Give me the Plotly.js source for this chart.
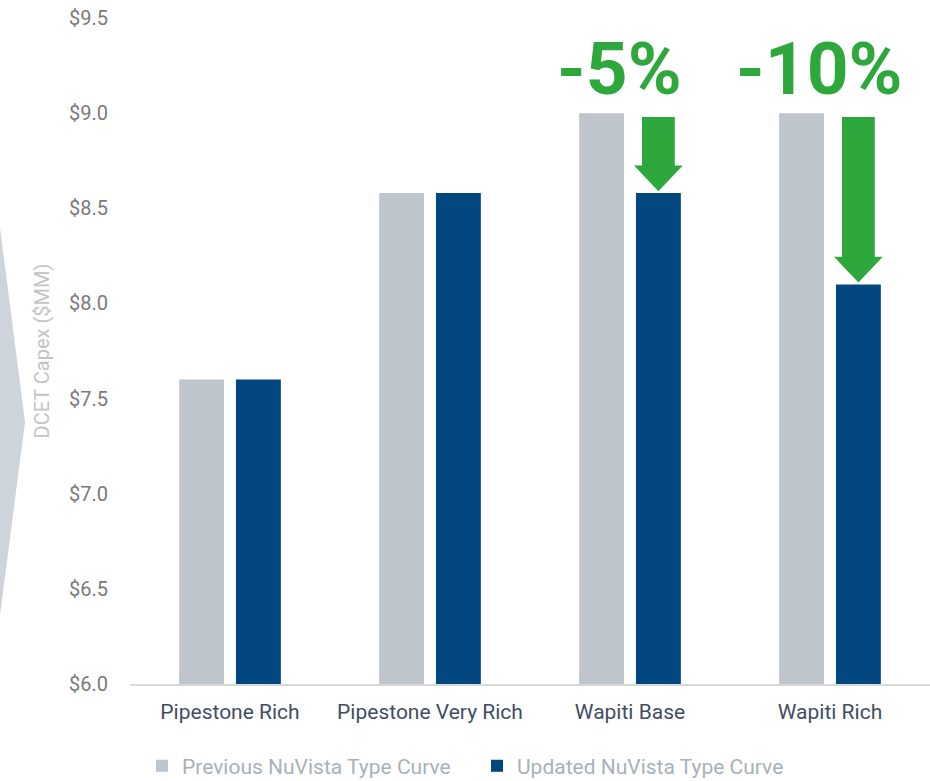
<!DOCTYPE html>
<html>
<head>
<meta charset="utf-8">
<script src="https://cdn.plot.ly/plotly-3.0.1.min.js"></script>
<style>html,body{margin:0;padding:0;background:#fff;}#chart{width:930px;height:781px;}</style>
</head>
<body>
<div id="chart"></div>
<script>
// ---- data ----
var categories = ["Pipestone Rich", "Pipestone Very Rich", "Wapiti Base", "Wapiti Rich"];
var previousCapex = [7.6, 8.58, 9.0, 9.0];
var updatedCapex = [7.6, 8.58, 8.58, 8.1];
var changeLabels = ["", "", "-5%", "-10%"];
var seriesNames = ["Previous NuVista Type Curve", "Updated NuVista Type Curve"];
var yTickVals = [6.0, 6.5, 7.0, 7.5, 8.0, 8.5, 9.0, 9.5];
var yTickText = ["$6.0", "$6.5", "$7.0", "$7.5", "$8.0", "$8.5", "$9.0", "$9.5"];

// ---- styling ----
var greyBar = "#bec5cd";
var blueBar = "#02477f";
var green = "#2ea83c";
var bargap = 0.432;
var bargroupgap = 0.21;

var traces = [
  {type: "bar", name: seriesNames[0], x: categories, y: previousCapex,
   marker: {color: greyBar}, hoverinfo: "x+y"},
  {type: "bar", name: seriesNames[1], x: categories, y: updatedCapex,
   marker: {color: blueBar}, hoverinfo: "x+y"}
];

// arrows and percentage labels, derived from the data
var shapes = [];
var annotations = [];
var slot = (1 - bargap) / 2;
var blueOffset = slot / 2;
categories.forEach(function (c, i) {
  if (!changeLabels[i]) return;
  var xc = i + blueOffset;
  var top = previousCapex[i] - 0.02;
  var tip = updatedCapex[i] + 0.01;
  var headStart = tip + 0.135;
  var sw = 0.082, hw = 0.122;
  var p = "M " + (xc - sw) + "," + top +
          " L " + (xc + sw) + "," + top +
          " L " + (xc + sw) + "," + headStart +
          " L " + (xc + hw) + "," + headStart +
          " L " + xc + "," + tip +
          " L " + (xc - hw) + "," + headStart +
          " L " + (xc - sw) + "," + headStart + " Z";
  shapes.push({type: "path", xref: "x", yref: "y", path: p,
               fillcolor: green, line: {width: 0}, layer: "above"});
  annotations.push({xref: "x", yref: "y", x: i - 0.055, y: 9.23,
                    text: "<b>" + changeLabels[i] + "</b>", showarrow: false,
                    font: {family: "Roboto", size: 73, color: green},
                    xanchor: "center", yanchor: "middle"});
});

// decorative chevron at left edge
shapes.push({type: "path", xref: "paper", yref: "paper",
             path: "M -0.1625,0.6847 L -0.13125,0.3934 L -0.1625,0.1036 Z",
             fillcolor: "#cdd4db", line: {width: 0}, layer: "below"});

var layout = {
  width: 930, height: 781,
  margin: {l: 130, r: 0, t: 18, b: 97},
  paper_bgcolor: "#ffffff", plot_bgcolor: "#ffffff",
  barmode: "group", bargap: bargap, bargroupgap: bargroupgap,
  font: {family: "Roboto", color: "#777"},
  xaxis: {
    type: "category", showgrid: false, zeroline: false,
    showline: true, linecolor: "#d9d9d9", linewidth: 2,
    ticks: "", ticklabelstandoff: 8, automargin: false,
    tickfont: {family: "Roboto", size: 21, color: "#3f4e62"}
  },
  yaxis: {
    range: [6.0, 9.5], showgrid: false, zeroline: false, showline: false,
    tickvals: yTickVals, ticktext: yTickText, ticks: "", automargin: false,
    ticklabelstandoff: 21,
    tickfont: {family: "Roboto", size: 20, color: "#7a7a7a"},
    title: {text: "DCET Capex ($MM)", standoff: 14,
            font: {family: "Roboto", size: 20, color: "#c4c4c4"}}
  },
  showlegend: true,
  legend: {orientation: "h", xref: "paper", x: 0.015, xanchor: "left",
           yref: "container", y: 0.019, yanchor: "middle",
           font: {family: "Roboto", size: 21, color: "#aab0b7"},
           bgcolor: "rgba(0,0,0,0)", entrywidth: 290, entrywidthmode: "pixels",
           itemclick: false, itemdoubleclick: false},
  shapes: shapes,
  annotations: annotations
};

Plotly.newPlot("chart", traces, layout, {displayModeBar: false, staticPlot: true});
</script>
</body>
</html>
